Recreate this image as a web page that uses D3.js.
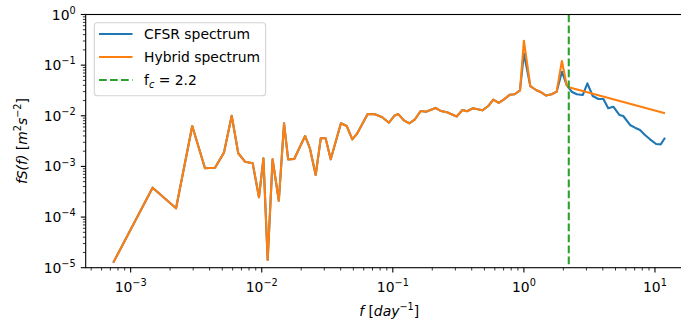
<!DOCTYPE html>
<html>
<head>
<meta charset="utf-8">
<script src="https://cdn.jsdelivr.net/npm/d3@7"></script>
<style>
  body { margin: 0; background: #fff; }
  svg { display: block; font-family: 'DejaVu Sans', sans-serif; }
</style>
</head>
<body>
<svg id="chart"></svg>
<script>
// frequencies [day^-1] and CFSR spectrum values
var cfsrFreq = [
  7.37e-4, 1.47e-3, 2.22e-3, 2.95e-3, 3.69e-3, 4.40e-3, 5.15e-3, 5.90e-3, 6.62e-3, 7.45e-3,
  8.53e-3, 9.53e-3, 1.03e-2, 1.11e-2, 1.21e-2, 1.35e-2, 1.48e-2, 1.59e-2, 1.77e-2, 2.14e-2,
  2.33e-2, 2.58e-2, 2.82e-2, 3.07e-2, 3.36e-2, 4.02e-2, 4.45e-2, 4.91e-2, 5.36e-2, 6.43e-2,
  7.31e-2, 8.31e-2, 9.35e-2, 0.1026, 0.110, 0.1223, 0.1336, 0.1476, 0.163, 0.179,
  0.212, 0.233, 0.259, 0.307, 0.340, 0.368, 0.409, 0.482, 0.535, 0.584,
  0.642, 0.701, 0.783, 0.851, 0.934, 1.0, 1.119, 1.237, 1.339, 1.475,
  1.630, 1.779, 1.95, 2.12, 2.315, 2.53, 2.81, 3.05, 3.35, 3.70,
  4.04, 4.40, 4.81, 5.35, 5.73, 6.45, 7.04, 7.69, 8.39, 9.17,
  10.2, 11.06, 11.93
];
var cfsrVal = [
  1.26e-5, 3.80e-4, 1.49e-4, 6.28e-3, 9.18e-4, 9.44e-4, 1.87e-3, 1.00e-2, 1.82e-3, 1.24e-3,
  1.15e-3, 2.46e-4, 1.45e-3, 1.42e-5, 1.38e-3, 2.10e-4, 7.11e-3, 1.38e-3, 1.40e-3, 3.99e-3,
  2.28e-3, 6.77e-4, 3.59e-3, 3.59e-3, 1.38e-3, 7.11e-3, 6.28e-3, 3.43e-3, 4.51e-3, 1.08e-2,
  1.07e-2, 9.33e-3, 7.30e-3, 1.00e-2, 1.08e-2, 8.0e-3, 7.11e-3, 8.53e-3, 1.24e-2, 1.20e-2,
  1.43e-2, 1.24e-2, 1.17e-2, 9.68e-3, 1.30e-2, 1.23e-2, 1.41e-2, 1.28e-2, 1.56e-2, 2.08e-2,
  1.79e-2, 2.08e-2, 2.61e-2, 2.66e-2, 3.16e-2, 0.171, 3.87e-2, 3.23e-2, 2.95e-2, 2.51e-2,
  2.66e-2, 2.99e-2, 7.42e-2, 4.05e-2, 2.99e-2, 2.66e-2, 2.57e-2, 4.38e-2, 2.46e-2, 2.14e-2,
  2.14e-2, 1.41e-2, 1.51e-2, 1.04e-2, 9.9e-3, 6.58e-3, 5.82e-3, 5.24e-3, 4.17e-3, 3.43e-3,
  2.77e-3, 2.73e-3, 3.69e-3
];

// hybrid spectrum: higher peaks at 1 and ~2 day^-1, power-law tail above f_c
var fc = 2.2;
var hybridPeakFreq = [1.0, 1.95];
var hybridPeakVal = [0.304, 0.121];
var hybridTailFreq = [2.2, 11.93];
var hybridTailVal = [3.65e-2, 1.12e-2];

var xTickExps = [-3, -2, -1, 0, 1];
var yTickExps = [-5, -4, -3, -2, -1, 0];

var width = 681,
  height = 322;

var plotLeft = 85.7, plotTop = 14.5, plotBottom = 267.7;

var cfsr = cfsrFreq.map(function(f, i) { return [f, cfsrVal[i]]; });
var hybrid = cfsr.filter(function(d) { return d[0] < fc; })
  .map(function(d) {
    var k = hybridPeakFreq.indexOf(d[0]);
    return k >= 0 ? [d[0], hybridPeakVal[k]] : d;
  })
  .concat(hybridTailFreq.map(function(f, i) { return [f, hybridTailVal[i]]; }));

// matplotlib-like 5% log margin on x
var lx = d3.extent(cfsrFreq, function(d) { return Math.log10(d); });
var pad = 0.05 * (lx[1] - lx[0]);
var x = d3.scaleLog()
  .domain([Math.pow(10, lx[0] - pad), Math.pow(10, lx[1] + pad)])
  .range([plotLeft, 692.6]);
var plotRight = x.range()[1];

var y = d3.scaleLog()
  .domain([1e-5, 1])
  .range([plotBottom, plotTop]);

var svg = d3.select('#chart')
  .attr('width', width)
  .attr('height', height);

svg.append('defs').append('clipPath')
  .attr('id', 'clip')
  .append('rect')
  .attr('x', plotLeft)
  .attr('y', plotTop)
  .attr('width', plotRight - plotLeft)
  .attr('height', plotBottom - plotTop);

var fs = 13.9;

function sciLabel(sel, exp) {
  sel.append('tspan').text('10');
  sel.append('tspan')
    .attr('font-size', fs * 0.7)
    .attr('dy', -fs * 0.42)
    .text(String(exp).replace('-', '\u2212'));
}

// x ticks
var gx = svg.append('g');
x.ticks().forEach(function(t) {
  var e = Math.log10(t);
  var major = Math.abs(e - Math.round(e)) < 1e-9;
  gx.append('line')
    .attr('x1', x(t)).attr('x2', x(t))
    .attr('y1', plotBottom).attr('y2', plotBottom + (major ? 4.9 : 2.8))
    .attr('stroke', '#000')
    .attr('stroke-width', major ? 1.1 : 0.8);
});
xTickExps.forEach(function(e) {
  gx.append('text')
    .attr('x', x(Math.pow(10, e)))
    .attr('y', 292)
    .attr('text-anchor', 'middle')
    .attr('font-size', fs)
    .call(sciLabel, e);
});

// y ticks
var gy = svg.append('g');
y.ticks().forEach(function(t) {
  var e = Math.log10(t);
  var major = Math.abs(e - Math.round(e)) < 1e-9;
  gy.append('line')
    .attr('x1', plotLeft).attr('x2', plotLeft - (major ? 4.9 : 2.8))
    .attr('y1', y(t)).attr('y2', y(t))
    .attr('stroke', '#000')
    .attr('stroke-width', major ? 1.1 : 0.8);
});
yTickExps.forEach(function(e) {
  gy.append('text')
    .attr('x', plotLeft - 10)
    .attr('y', y(Math.pow(10, e)) + 5)
    .attr('text-anchor', 'end')
    .attr('font-size', fs)
    .call(sciLabel, e);
});

// lines
var line = d3.line()
  .x(function(d) { return x(d[0]); })
  .y(function(d) { return y(d[1]); });

var gl = svg.append('g').attr('clip-path', 'url(#clip)');

gl.append('path')
  .datum(cfsr)
  .attr('d', line)
  .attr('fill', 'none')
  .attr('stroke', '#1f77b4')
  .attr('stroke-width', 2.1)
  .attr('stroke-linejoin', 'round');

gl.append('path')
  .datum(hybrid)
  .attr('d', line)
  .attr('fill', 'none')
  .attr('stroke', '#ff7f0e')
  .attr('stroke-width', 2.1)
  .attr('stroke-linejoin', 'round');

gl.append('line')
  .attr('x1', x(fc)).attr('x2', x(fc))
  .attr('y1', plotTop).attr('y2', plotBottom)
  .attr('stroke', '#2ca02c')
  .attr('stroke-width', 2.1)
  .attr('stroke-dasharray', '7.7,3.3');

// frame (right spine lies outside the picture)
svg.append('rect')
  .attr('x', plotLeft)
  .attr('y', plotTop)
  .attr('width', plotRight - plotLeft)
  .attr('height', plotBottom - plotTop)
  .attr('fill', 'none')
  .attr('stroke', '#000')
  .attr('stroke-width', 1.1);

// axis labels
var xl = svg.append('text')
  .attr('x', (plotLeft + plotRight) / 2)
  .attr('y', 316)
  .attr('text-anchor', 'middle')
  .attr('font-size', fs);
xl.append('tspan').attr('font-style', 'italic').text('f');
xl.append('tspan').text(' [');
xl.append('tspan').attr('font-style', 'italic').text('day');
xl.append('tspan').attr('font-size', fs * 0.7).attr('dy', -fs * 0.42).text('\u22121');
xl.append('tspan').attr('dy', fs * 0.42).text(']');

var yl = svg.append('text')
  .attr('transform', 'translate(27,' + ((plotTop + plotBottom) / 2) + ') rotate(-90)')
  .attr('text-anchor', 'middle')
  .attr('font-size', fs);
yl.append('tspan').attr('font-style', 'italic').text('fS(f)');
yl.append('tspan').text(' [');
yl.append('tspan').attr('font-style', 'italic').text('m');
yl.append('tspan').attr('font-size', fs * 0.7).attr('dy', -fs * 0.42).text('2');
yl.append('tspan').attr('font-style', 'italic').attr('font-size', fs).attr('dy', fs * 0.42).text('s');
yl.append('tspan').attr('font-size', fs * 0.7).attr('dy', -fs * 0.42).text('\u22122');
yl.append('tspan').attr('dy', fs * 0.42).text(']');

// legend
var legendItems = [
  { label: 'CFSR spectrum', color: '#1f77b4', dash: null },
  { label: 'Hybrid spectrum', color: '#ff7f0e', dash: null },
  { label: 'fc', color: '#2ca02c', dash: '7.7,3.3' }
];
var lg = svg.append('g');
var box = lg.append('rect')
  .attr('x', 94.3)
  .attr('y', 22.7)
  .attr('height', 73)
  .attr('rx', 3)
  .attr('fill', '#fff')
  .attr('fill-opacity', 0.8)
  .attr('stroke', '#d4d4d4')
  .attr('stroke-width', 1.1);

var maxEnd = 0;
legendItems.forEach(function(d, i) {
  var cy = 34 + i * 23;
  lg.append('line')
    .attr('x1', 99).attr('x2', 132.5)
    .attr('y1', cy).attr('y2', cy)
    .attr('stroke', d.color)
    .attr('stroke-width', 2.1)
    .attr('stroke-dasharray', d.dash);
  var t = lg.append('text')
    .attr('x', 144)
    .attr('y', cy + 5)
    .attr('font-size', fs);
  if (d.label === 'fc') {
    t.append('tspan').text('f');
    t.append('tspan').attr('font-style', 'italic').attr('font-size', fs * 0.7).attr('dy', 3).text('c');
    t.append('tspan').attr('dy', -3).text(' = ' + fc);
  } else {
    t.text(d.label);
  }
  var bb = t.node().getBBox();
  maxEnd = Math.max(maxEnd, bb.x + bb.width);
});
box.attr('width', maxEnd + 5.6 - 94.3);
</script>
</body>
</html>
